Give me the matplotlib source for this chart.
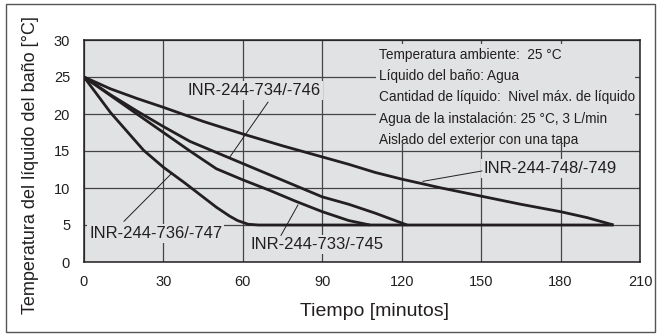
import numpy as np
import matplotlib
matplotlib.use("Agg")
import matplotlib.pyplot as plt
from matplotlib.patches import Rectangle

plt.rcParams['font.family'] = ['Liberation Sans', 'DejaVu Sans']

# curves (time in minutes, bath temperature in degC)
t_748 = [0, 10, 20, 30, 45, 60, 75, 90, 100, 110, 120, 135, 150, 165, 180, 190, 200]
T_748 = [25, 23.4, 22.1, 20.9, 19.0, 17.3, 15.7, 14.2, 13.2, 12.1, 11.2, 10.0, 8.9, 7.8, 6.8, 6.0, 5.0]

t_734 = [0, 10, 20, 30, 40, 50, 60, 70, 80, 90, 100, 110, 122]
T_734 = [25, 22.6, 20.4, 18.3, 16.3, 14.8, 13.3, 11.8, 10.3, 8.8, 7.8, 6.6, 5.0]

t_733 = [0, 10, 20, 30, 40, 50, 60, 70, 80, 90, 100, 108]
T_733 = [25, 22.5, 20.0, 17.5, 15.0, 12.6, 11.1, 9.7, 8.2, 6.8, 5.6, 5.0]

t_736 = [0, 10, 22.5, 30, 38, 50, 55, 58, 62, 66, 200]
T_736 = [25, 20.2, 15.1, 12.8, 10.7, 7.4, 6.2, 5.6, 5.1, 5.0, 5.0]

x_ticks = [0, 30, 60, 90, 120, 150, 180, 210]
y_ticks = [0, 5, 10, 15, 20, 25, 30]

conditions = ["Temperatura ambiente:  25 °C",
              "Líquido del baño: Agua",
              "Cantidad de líquido:  Nivel máx. de líquido",
              "Agua de la instalación: 25 °C, 3 L/min",
              "Aislado del exterior con una tapa"]

bg = '#e1e2e3'
ink = '#231f20'

fig = plt.figure(figsize=(6.6, 3.35), dpi=100)
fig.patches.append(Rectangle((6/660, 3/335), 649/660, 328/335, transform=fig.transFigure,
                             fill=False, edgecolor='#555555', linewidth=1.0))
ax = fig.add_axes([84/660, 73/335, 556/660, 222/335])
ax.set_facecolor(bg)

for x in x_ticks:
    ax.axvline(x, color='#444444', lw=0.9, zorder=1)
for y in y_ticks:
    ax.axhline(y, color='#444444', lw=0.9, zorder=1)

for t, T in [(t_748, T_748), (t_734, T_734), (t_733, T_733), (t_736, T_736)]:
    ax.plot(t, T, color=ink, lw=2.0, zorder=4, solid_capstyle='butt')

ax.set_xlim(0, 210)
ax.set_ylim(0, 30)
ax.set_xticks(x_ticks)
ax.set_yticks(y_ticks)
ax.tick_params(length=0, labelsize=10.5, colors=ink)
ax.tick_params(axis='x', pad=9)
ax.tick_params(axis='y', pad=10)
for s in ax.spines.values():
    s.set_color(ink)
    s.set_linewidth(1.1)
    s.set_zorder(5)

ax.set_xlabel('Tiempo [minutos]', fontsize=14, color=ink)
ax.set_ylabel('Temperatura del líquido del baño [°C]', fontsize=13, color=ink)
ax.xaxis.set_label_coords((375 - 84) / 556, -(312 - 262) / 222)
ax.yaxis.set_label_coords((31 - 84) / 556, (262 - 165) / 222)
ax.xaxis.label.set_va('center')
ax.yaxis.label.set_va('center')

# conditions block, its background hides the grid behind it
ax.add_patch(Rectangle((110.3, 15.9), 97.8, 13.5, facecolor=bg, edgecolor='none', zorder=2))
for i, line in enumerate(conditions):
    ax.text(111.4, 28.0 - i * 2.87, line, fontsize=9.8, ha='left', va='center',
            color=ink, zorder=3)

# curve labels with leader lines
box = dict(facecolor=bg, edgecolor='none', pad=1.5)
labels = [
    ('INR-244-734/-746', 64.2, 23.2, 'center', (69.5, 21.6), (55.1, 14.2)),
    ('INR-244-748/-749', 150.8, 12.7, 'left', (150.3, 12.3), (128.0, 10.9)),
    ('INR-244-736/-747', 1.9, 3.9, 'left', (15.1, 5.5), (32.9, 11.9)),
    ('INR-244-733/-745', 62.7, 2.3, 'left', (74.4, 3.6), (80.8, 7.7)),
]
for txt, x, y, ha, p0, p1 in labels:
    ax.text(x, y, txt, fontsize=12, ha=ha, va='center', color=ink, bbox=box, zorder=3)
    ax.plot([p0[0], p1[0]], [p0[1], p1[1]], color=ink, lw=0.7, zorder=3.5)

fig.savefig('out.png', dpi=100)
